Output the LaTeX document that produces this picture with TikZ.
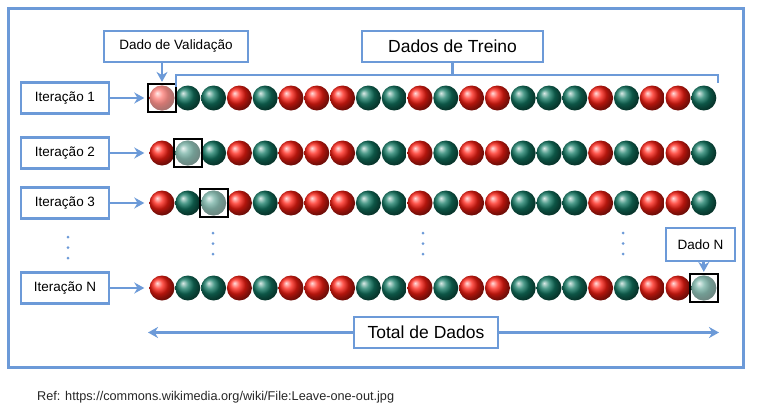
\documentclass[tikz,border=0pt]{standalone}
\usepackage{fontspec}
\setmainfont{Liberation Sans}
\usetikzlibrary{arrows.meta, positioning, shadows}
\definecolor{frameblue}{RGB}{108,154,216}
\definecolor{ballr}{RGB}{255,30,18}
\definecolor{ballg}{RGB}{18,122,100}
\tikzset{
  label box/.style={
    draw=frameblue,
    line width=2.4pt,
    fill=white,
    inner xsep=6pt,
    minimum height=31pt,
    font=\fontsize{13.5}{16}\selectfont,
    drop shadow={opacity=0.2, shadow xshift=1pt, shadow yshift=-1pt}
  },
  big box/.style={
    label box,
    font=\fontsize{17.5}{20}\selectfont
  },
  pointer/.style={
    -{Stealth[length=10pt, width=11pt]},
    draw=frameblue,
    line width=2.8pt
  },
  bracket/.style={
    draw=frameblue,
    line width=2.2pt
  },
  ball/.style={
    circle,
    inner sep=0pt,
    minimum size=25pt,
    shading=ball
  },
  val box/.style={
    draw=black,
    line width=2.2pt,
    minimum size=28pt,
    inner sep=0pt
  },
  dot/.style={
    circle,
    fill=frameblue,
    inner sep=0pt,
    minimum size=3pt
  }
}
\begin{document}
\begin{tikzpicture}[x=1pt, y=-1pt]
  \useasboundingbox (0,0) rectangle (761,410);

  % moldura
  \draw[frameblue, line width=3pt, fill=white,
    drop shadow={opacity=0.25, shadow xshift=1.5pt, shadow yshift=-1.5pt}]
    (8,8) rectangle (743,367);

  % linhas de bolas: nome / y / posicao do dado de validacao
  \foreach \r/\y/\v in {1/98/1, 2/153/2, 3/203/3, N/288/22} {
    \foreach \c [count=\i] in {r,g,g,r,g,r,r,r,g,g,r,g,r,r,g,g,g,r,g,r,r,g} {
      \ifnum\i=\v \def\fo{0.42}\else \def\fo{0}\fi
      \node[ball, ball color=ball\c, postaction={fill=white, fill opacity=\fo}]
        (b-\r-\i) at ({162+(\i-1)*25.8}, \y) {};
    }
    \node[val box] (v-\r) at (b-\r-\v) {};
    \node[label box, minimum width=88pt] (it-\r) at (65, \y) {Iteração \r};
    \draw[pointer, shorten >=5pt] (it-\r) -- (b-\r-1);
  }

  % reticencias
  \foreach \x/\y in {68/237, 213/233, 423/233, 623/233}
    \foreach \k in {0,1,2}
      \node[dot] at (\x, \y+\k*10.5) {};

  % dado de validacao
  \node[label box, minimum width=144pt] (dv) at (176, 46.5) {Dado de Validação};
  \draw[pointer, shorten >=1pt] (dv.south -| v-1) -- (v-1.north);

  % dados de treino
  \node[big box, minimum width=181pt] (dt) at (452.5, 46.5) {Dados de Treino};
  \coordinate (br-l) at (176, 87);
  \coordinate (br-r) at (718, 83);
  \draw[bracket] (br-l) |- (br-r |- 0,75) -- (br-r);
  \draw[bracket] (dt.south) -- (dt.south |- 0,75);

  % dado N
  \node[label box, minimum width=69pt, minimum height=33pt] (dn) at (700.5, 244.5) {Dado N};
  \draw[pointer, shorten >=1pt] (dn.south -| b-N-22) -- (v-N.north);

  % total de dados
  \node[big box, minimum width=144pt] (td) at (426, 332.5) {Total de Dados};
  \coordinate (td-l) at (148, 332.5);
  \coordinate (td-r) at (719, 332.5);
  \draw[pointer] (td) -- (td-l);
  \draw[pointer] (td) -- (td-r);

  % referencia
  \node[anchor=west, inner sep=0pt, text=black!85, font=\fontsize{12.7}{15}\selectfont]
    (ref) at (37, 397) {Ref: https://commons.wikimedia.org/wiki/File:Leave-one-out.jpg};
\end{tikzpicture}
\end{document}
